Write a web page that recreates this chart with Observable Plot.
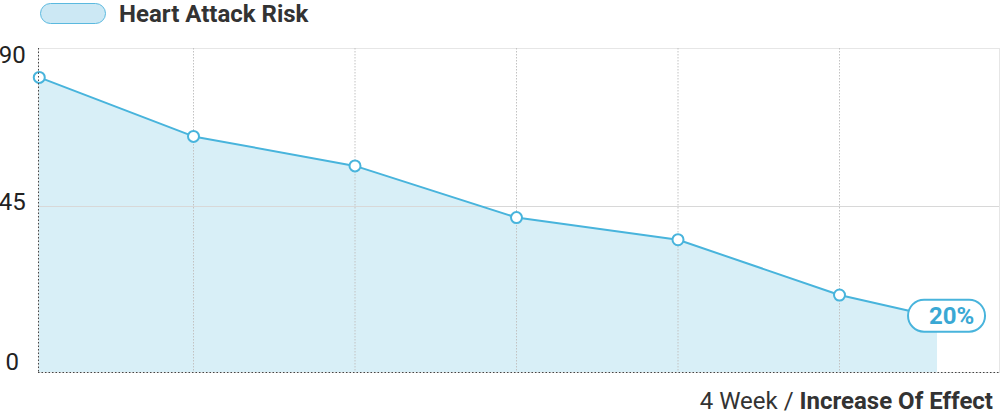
<!DOCTYPE html>
<html>
<head>
<meta charset="utf-8">
<script src="https://cdn.jsdelivr.net/npm/d3@7"></script>
<script src="https://cdn.jsdelivr.net/npm/@observablehq/plot@0.6"></script>
<style>
  html, body { margin: 0; padding: 0; background: #fff; }
  #wrap { position: relative; width: 1001px; height: 416px; font-family: Roboto, "Noto Sans", sans-serif; overflow: hidden; }
  #wrap svg { position: absolute; left: 0; top: 0; }
  .swatch { position: absolute; left: 40px; top: 3px; width: 64px; height: 19px; border: 1.6px solid #5ab9df; border-radius: 12px; background: #cce8f4; box-sizing: content-box; }
  .legend-label { position: absolute; left: 119px; top: 2px; font-size: 24px; line-height: 24px; font-weight: 700; color: #333; white-space: nowrap; }
  .caption { position: absolute; right: 8px; top: 389px; font-size: 24px; line-height: 24px; color: #333; white-space: nowrap; }
  .caption b { font-weight: 700; }
</style>
</head>
<body>
<div id="wrap">
  <div class="swatch"></div><div class="legend-label">Heart Attack Risk</div>
  <div class="caption">4 Week / <b>Increase Of Effect</b></div>
</div>
<script>
const seriesName = "Heart Attack Risk";
const weeks = [0.045, 1, 2, 3, 4, 5, 5.607];
const risk = [80, 64, 56, 42, 36, 21, 15];
const yTicks = [0, 45, 90];
const gridWeeks = [1, 2, 3, 4, 5];
const lastLabel = "20%";

const data = weeks.map((w, i) => ({x: w, y: risk[i]}));
const pts = data.slice(0, data.length - 1);
const last = [data[data.length - 1]];

const blue = "#48b4dc";
const labelDy = v => (v === 0 ? -10 : v === 45 ? -4.5 : 15);

const chart = Plot.plot({
  width: 1001,
  height: 416,
  marginLeft: 38,
  marginRight: 2,
  marginTop: 48,
  marginBottom: 44,
  style: {fontFamily: "Roboto, 'Noto Sans', sans-serif", background: "transparent", overflow: "visible"},
  x: {domain: [0, 6], range: [31.5, 1000.5], axis: null},
  y: {domain: [0, 90], range: [372, 40], axis: null},
  marks: [
    Plot.areaY(data, {x: "x", y: "y", fill: "#d8eff7"}),
    Plot.frame({stroke: "#e6e6e6"}),
    Plot.ruleX(gridWeeks, {stroke: "#c2c2c2", strokeDasharray: "1.5,1.5"}),
    Plot.ruleY([45], {stroke: "#d8d8d8"}),
    Plot.line(data, {x: "x", y: "y", stroke: blue, strokeWidth: 2}),
    Plot.dot(pts, {x: "x", y: "y", r: 5.5, fill: "white", stroke: blue, strokeWidth: 2}),
    Plot.ruleX([weeks[0]], {stroke: "#444", strokeDasharray: "1.5,2", dx: -0.77}),
    Plot.ruleY([0], {stroke: "#444", strokeDasharray: "1.5,2"}),
    Plot.rect(last, {
      x1: "x", x2: "x", y1: "y", y2: "y",
      insetLeft: -29, insetRight: -48, insetTop: -17, insetBottom: -15,
      rx: 16, fill: "white", stroke: blue, strokeWidth: 2
    }),
    Plot.text(last, {x: "x", y: "y", text: () => lastLabel, dx: 14, dy: -1, fontSize: 24, fontWeight: 700, fill: "#3aa8d4"}),
    ...yTicks.map(v => Plot.text([v], {
      x: () => weeks[0], y: d => d, text: d => String(d), dx: -27, dy: labelDy(v),
      textAnchor: "middle", fontSize: 24, fill: "#222"
    }))
  ]
});
document.getElementById("wrap").prepend(chart);
</script>
</body>
</html>
